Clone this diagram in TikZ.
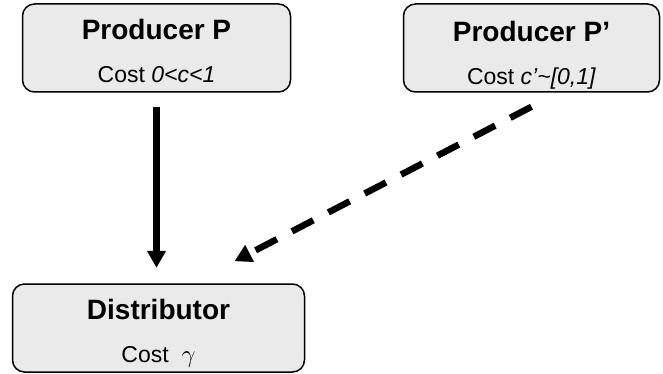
\documentclass[tikz,border=0pt]{standalone}
\usepackage{fontspec}
\setmainfont{Liberation Sans}
\usepackage{xcolor}
\usetikzlibrary{arrows.meta,positioning}

\definecolor{boxgray}{RGB}{234,234,234}
\newcommand{\boxtitle}[1]{{\fontsize{28}{43}\selectfont\bfseries #1}}

\begin{document}
\begin{tikzpicture}[x=1pt,y=-1pt,on grid]
	\tikzstyle{agent}=[draw=black,line width=1.5pt,fill=boxgray,rounded corners=12pt,minimum height=88pt,align=center,font=\fontsize{23}{43}\selectfont,text height=69pt,text depth=0pt]
	\tikzstyle{supply}=[line width=6.5pt,-{Triangle[length=17pt,width=18pt]}]
	\tikzstyle{offer}=[supply,dash pattern=on 24pt off 17pt]

	\useasboundingbox (0,0) rectangle (663,374);

	\node[agent,minimum width=268pt] (prodP) at (156.5,48)                  {\boxtitle{Producer P}\\ Cost \textit{0<c<1}};
	\node[agent,minimum width=256pt,text height=74pt] (prodPp) [right=375pt of prodP] {\boxtitle{Producer P’}\\ Cost \textit{c’\textasciitilde[0,1]}};
	\node[agent,minimum width=292pt] (dist)   [below=280pt of prodP,xshift=2pt] {\boxtitle{Distributor}\\ Cost \ $\gamma$};

	% arrows between the agents
	\coordinate (offerStart) at ([yshift=-14pt]prodPp.south);
	\coordinate (offerEnd)   at ([xshift=76pt,yshift=22pt]dist.north);

	\draw[supply,shorten <=14pt,shorten >=15.5pt] (prodP.south) -- (prodP.south |- dist.north);
	\draw[offer] (offerStart) -- (offerEnd);
\end{tikzpicture}
\end{document}
